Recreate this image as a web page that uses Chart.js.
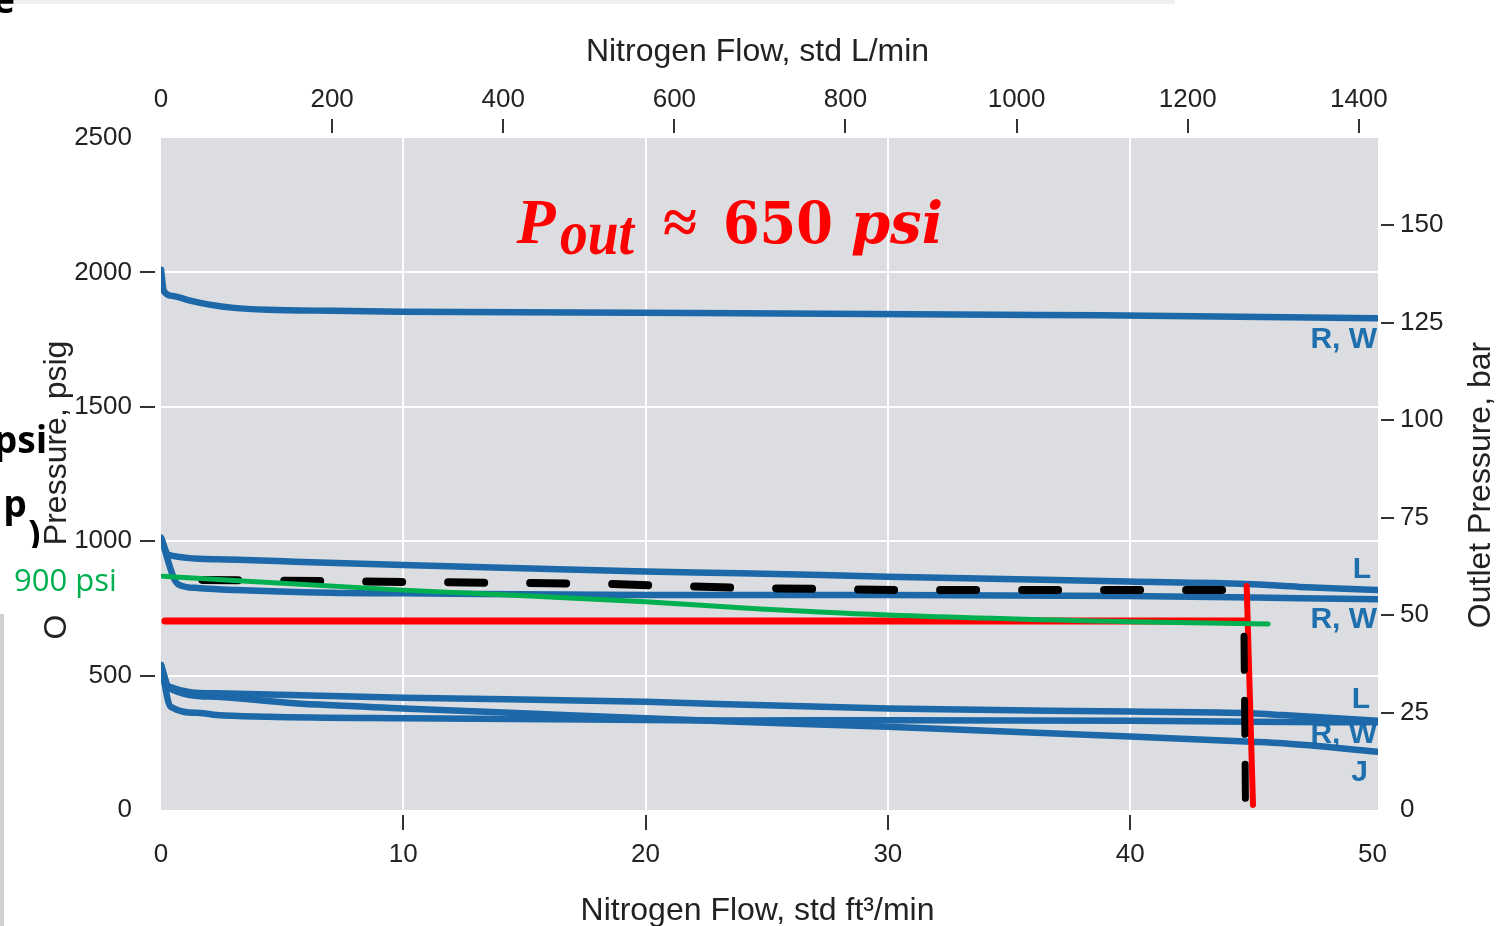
<!DOCTYPE html>
<html>
<head>
<meta charset="utf-8">
<script src="https://cdn.jsdelivr.net/npm/chart.js@4.4.1/dist/chart.umd.min.js"></script>
<style>
  html, body { margin: 0; padding: 0; background: #fff; }
  #wrap { position: relative; width: 1502px; height: 926px; overflow: hidden; }
</style>
</head>
<body>
<div id="wrap"><canvas id="flowChart" width="1502" height="926"></canvas></div>
<script>
// Axis ticks
const flowTicks = [0, 10, 20, 30, 40, 50];                       // std ft3/min
const litreTicks = [0, 200, 400, 600, 800, 1000, 1200, 1400];    // std L/min
const psigTicks = [0, 500, 1000, 1500, 2000, 2500];              // psig
const barTicks = [0, 25, 50, 75, 100, 125, 150];                 // bar

// Regulator curves (flow ft3/min, pressure psig)
const flowHighRW = [0, 0.12, 0.5, 1.2, 2, 3, 4.4, 7.1, 9.9, 22, 34.6, 38.8, 50.2];
const psiHighRW = [2010, 1930, 1912, 1895, 1880, 1868, 1861, 1857, 1854, 1849, 1842, 1841, 1829];

const flowMidL = [0, 0.32, 2.3, 5.5, 10, 14.9, 20, 23.9, 30, 39.9, 44.8, 47, 50.2];
const psiMidL = [1012, 949, 933, 924, 911, 899, 887, 881, 868, 850, 841, 830, 818];

const flowMidRW = [0, 0.7, 1.5, 3.1, 7, 10, 20, 30, 39.9, 47, 50.2];
const psiMidRW = [1012, 840, 826, 818, 808, 806, 800, 800, 796, 788, 784];

const flowLowL = [0, 0.32, 2.3, 10, 20, 23, 30, 40, 45, 46.3, 50.2];
const psiLowL = [539, 459, 434, 418, 403, 394, 378, 366, 360, 353, 332];

const flowLowRW = [0, 0.4, 1.6, 2.3, 4.4, 10, 20, 24, 30, 40, 45, 50.2];
const psiLowRW = [539, 384, 361, 353, 347, 341, 335, 333, 334, 332, 328, 326];

const flowLowJ = [0, 0.32, 2.3, 5.5, 10, 14.9, 20, 23.5, 30, 40, 45, 46.3, 50.2];
const psiLowJ = [539, 454, 421, 397, 378, 360, 341, 329, 310, 273, 254, 248, 217];

// Hand-drawn overlays
const flowDashH = [1.7, 10.6, 18, 24, 31, 44.1];
const psiDashH = [856, 848, 842, 826, 818, 818];
const flowDashV = [44.7, 44.76];
const psiDashV = [646, 19];
const flowRedH = [0.16, 44.74];
const psiRedH = [703, 703];
const flowRedV = [44.81, 45.07];
const psiRedV = [833, 19];
const flowGreen = [0.08, 10, 20, 23.9, 30, 40, 45.7];
const psiGreen = [870, 818, 775, 752, 725, 700, 692];

const FT3_TO_L = 28.3168;
const PSI_PER_BAR = 14.5038;
const FLOW_MAX = 50.23;
const PSI_MAX = 2500;

const blue = '#1c68a8';
const tickFont = { family: "'Liberation Sans', Arial, sans-serif", size: 26 };
const plainLabel = v => String(v);

function pts(xs, ys) {
  return xs.map((x, i) => ({ x: x, y: ys[i] }));
}

function blueCurve(xs, ys) {
  return {
    data: pts(xs, ys), borderColor: blue, borderWidth: 6.5,
    cubicInterpolationMode: 'monotone', borderCapStyle: 'round',
    borderJoinStyle: 'round', order: 5
  };
}

// curve labels at the right end of the plot
const curveLabels = [
  { text: 'R, W', x: 50.19, y: 1749 },
  { text: 'L', x: 49.94, y: 893 },
  { text: 'R, W', x: 50.19, y: 707 },
  { text: 'L', x: 49.9, y: 409 },
  { text: 'R, W', x: 50.19, y: 279 },
  { text: 'J', x: 49.81, y: 138 }
];

const decor = {
  id: 'decor',
  beforeDraw(chart) {
    const { ctx, chartArea: a } = chart;
    ctx.save();
    ctx.fillStyle = '#dcdde0';
    ctx.fillRect(a.left, a.top, a.right - a.left, a.bottom - a.top);
    ctx.restore();
  },
  beforeDatasetsDraw(chart) {
    const { ctx, scales } = chart;
    ctx.save();
    ctx.fillStyle = '#1e6fae';
    ctx.font = "bold 30px 'Liberation Sans', Arial, sans-serif";
    ctx.textAlign = 'right';
    ctx.textBaseline = 'middle';
    curveLabels.forEach(l => {
      ctx.fillText(l.text, scales.x.getPixelForValue(l.x), scales.y.getPixelForValue(l.y));
    });
    ctx.restore();
  },
  afterDraw(chart) {
    const { ctx, chartArea: a, scales } = chart;
    ctx.save();

    // tick marks, drawn a little away from the plot edge
    ctx.strokeStyle = '#333';
    ctx.lineWidth = 2;
    ctx.beginPath();
    psigTicks.filter(v => v > 0 && v < PSI_MAX).forEach(v => {
      const y = Math.round(scales.y.getPixelForValue(v));
      ctx.moveTo(a.left - 21, y); ctx.lineTo(a.left - 6, y);
    });
    barTicks.filter(v => v > 0).forEach(v => {
      const y = Math.round(scales.yBar.getPixelForValue(v));
      ctx.moveTo(a.right + 3, y); ctx.lineTo(a.right + 16, y);
    });
    litreTicks.filter(v => v > 0).forEach(v => {
      const x = Math.round(scales.xTop.getPixelForValue(v));
      ctx.moveTo(x, a.top - 19); ctx.lineTo(x, a.top - 5);
    });
    flowTicks.filter(v => v > 0 && v < 50).forEach(v => {
      const x = Math.round(scales.x.getPixelForValue(v));
      ctx.moveTo(x, a.bottom + 5); ctx.lineTo(x, a.bottom + 20);
    });
    ctx.stroke();

    // axis titles
    ctx.fillStyle = '#222';
    ctx.font = "32px 'Liberation Sans', Arial, sans-serif";
    ctx.textAlign = 'center';
    ctx.textBaseline = 'alphabetic';
    const cx = (a.left + a.right) / 2 - 12;
    ctx.fillText('Nitrogen Flow, std L/min', cx, 61);
    ctx.fillText('Nitrogen Flow, std ft\u00b3/min', cx, 920);
    ctx.save();
    ctx.translate(66, 490);
    ctx.rotate(-Math.PI / 2);
    ctx.fillText('Outlet Pressure, psig', 0, 0);
    ctx.restore();
    ctx.save();
    ctx.translate(1490, 485);
    ctx.rotate(-Math.PI / 2);
    ctx.fillText('Outlet Pressure, bar', 0, 0);
    ctx.restore();

    // red note: P_out ~ 650 psi
    const ax = scales.x.getPixelForValue(14.65);
    const ay = scales.y.getPixelForValue(2108);
    ctx.fillStyle = '#ff0000';
    ctx.textAlign = 'center';
    ctx.font = "italic bold 64px 'Liberation Serif', serif";
    ctx.fillText('P', ax + 20, ay);
    ctx.fillText('out', ax + 81, ay + 11, 74);
    ctx.font = "bold 62px 'Liberation Serif', serif";
    ctx.fillText('\u2248', ax + 164, ay);
    ctx.font = "bold 58px 'DejaVu Serif', serif";
    ctx.fillText('650', ax + 262, ay, 110);
    ctx.font = "italic bold 58px 'DejaVu Serif', serif";
    ctx.fillText('psi', ax + 381, ay, 92);

    // slide fragments at the left edge
    ctx.fillStyle = '#f0f0f0';
    ctx.fillRect(0, 0, 1175, 4);
    ctx.fillStyle = '#000';
    ctx.textAlign = 'right';
    ctx.font = "bold 37px 'Noto Sans', sans-serif";
    ctx.fillText('psi', 47, 453);
    ctx.fillText('p', 27, 517);
    ctx.textAlign = 'left';
    ctx.fillText(')', 28, 547);
    ctx.fillText('e', -7, 13);
    ctx.fillStyle = '#fff';
    ctx.fillRect(0, 548, 160, 66);
    ctx.fillStyle = '#cfd0d3';
    ctx.fillRect(0, 614, 4, 312);
    ctx.fillStyle = '#00b050';
    ctx.font = "31px 'Open Sans', sans-serif";
    ctx.fillText('900 psi', 14, 591);

    ctx.restore();
  }
};

new Chart(document.getElementById('flowChart').getContext('2d'), {
  type: 'line',
  data: {
    datasets: [
      { data: pts(flowGreen, psiGreen), borderColor: '#00b050', borderWidth: 5,
        cubicInterpolationMode: 'monotone', borderCapStyle: 'round', order: 1 },
      { data: pts(flowDashV, psiDashV), borderColor: '#000', borderWidth: 7,
        borderCapStyle: 'round', borderDash: [34, 30], order: 1.5 },
      { data: pts(flowRedH, psiRedH), borderColor: '#ff0000', borderWidth: 7,
        borderCapStyle: 'round', order: 2 },
      { data: pts(flowRedV, psiRedV), borderColor: '#ff0000', borderWidth: 6,
        borderCapStyle: 'round', order: 2 },
      { data: pts(flowDashH, psiDashH), borderColor: '#000', borderWidth: 8,
        borderCapStyle: 'round', borderDash: [36, 46], order: 3 },
      blueCurve(flowHighRW, psiHighRW),
      blueCurve(flowMidL, psiMidL),
      blueCurve(flowMidRW, psiMidRW),
      blueCurve(flowLowL, psiLowL),
      blueCurve(flowLowRW, psiLowRW),
      blueCurve(flowLowJ, psiLowJ)
    ]
  },
  options: {
    responsive: false,
    animation: false,
    layout: { padding: 0 },
    elements: { point: { radius: 0 } },
    plugins: { legend: { display: false }, tooltip: { enabled: false } },
    scales: {
      x: {
        type: 'linear', position: 'bottom', min: 0, max: FLOW_MAX,
        afterBuildTicks: s => { s.ticks = flowTicks.map(v => ({ value: v })); },
        afterFit: s => { s.height = 116; },
        ticks: { font: tickFont, color: '#222', padding: 29, maxRotation: 0, callback: plainLabel },
        grid: {
          drawTicks: false, lineWidth: 2,
          color: c => (c.tick && c.tick.value > 0 && c.tick.value < 50) ? 'rgba(255,255,255,0.95)' : 'rgba(0,0,0,0)'
        },
        border: { display: false }
      },
      xTop: {
        type: 'linear', position: 'top', min: 0, max: FLOW_MAX * FT3_TO_L,
        afterBuildTicks: s => { s.ticks = litreTicks.map(v => ({ value: v })); },
        afterFit: s => { s.height = 138; },
        ticks: { font: tickFont, color: '#222', padding: 15, maxRotation: 0, callback: plainLabel },
        grid: { display: false },
        border: { display: false }
      },
      y: {
        type: 'linear', position: 'left', min: 0, max: PSI_MAX,
        afterBuildTicks: s => { s.ticks = psigTicks.map(v => ({ value: v })); },
        afterFit: s => { s.width = 161; },
        ticks: { font: tickFont, color: '#222', padding: 29, callback: plainLabel },
        grid: {
          drawTicks: false, lineWidth: 2,
          color: c => (c.tick && c.tick.value > 0 && c.tick.value < PSI_MAX) ? 'rgba(255,255,255,0.95)' : 'rgba(0,0,0,0)'
        },
        border: { display: false }
      },
      yBar: {
        type: 'linear', position: 'right', min: 0, max: PSI_MAX / PSI_PER_BAR,
        afterBuildTicks: s => { s.ticks = barTicks.map(v => ({ value: v })); },
        afterFit: s => { s.width = 124; },
        ticks: { font: tickFont, color: '#222', padding: 14, callback: plainLabel },
        grid: { display: false },
        border: { display: false }
      }
    }
  },
  plugins: [decor]
});
</script>
</body>
</html>
